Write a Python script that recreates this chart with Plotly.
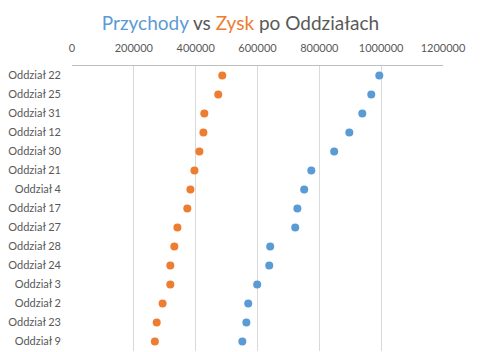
import plotly.graph_objects as go

categories = ["Oddział 22", "Oddział 25", "Oddział 31", "Oddział 12", "Oddział 30",
              "Oddział 21", "Oddział 4", "Oddział 17", "Oddział 27", "Oddział 28",
              "Oddział 24", "Oddział 3", "Oddział 2", "Oddział 23", "Oddział 9"]
przychody = [994000, 968000, 939000, 897000, 848000, 774000, 751000, 729000,
             722000, 641000, 638000, 599000, 570000, 564000, 551000]
zysk = [486000, 473000, 428000, 425000, 412000, 396000, 383000, 373000,
        341000, 331000, 318000, 318000, 293000, 274000, 268000]
tick_vals = [0, 200000, 400000, 600000, 800000, 1000000, 1200000]
tick_text = ["0", "200000", "400000", "600000", "800000", "1000000", "1200000"]

BLUE = "#5B9BD5"
ORANGE = "#ED7D31"
GRAY = "#595959"

fig = go.Figure()
fig.add_trace(go.Scatter(x=przychody, y=categories, mode="markers",
                         marker=dict(color=BLUE, size=8), name="Przychody"))
fig.add_trace(go.Scatter(x=zysk, y=categories, mode="markers",
                         marker=dict(color=ORANGE, size=8), name="Zysk"))

fig.update_layout(
    width=481, height=352,
    margin=dict(l=72, r=38, t=66, b=1),
    paper_bgcolor="white", plot_bgcolor="white",
    showlegend=False,
    font=dict(family="Lato, Carlito, sans-serif", color=GRAY, size=11),
    title=dict(
        text=(f"<span style='color:{BLUE}'>Przychody</span> vs "
              f"<span style='color:{ORANGE}'>Zysk</span> po Oddziałach"),
        x=0.5, xanchor="center", y=0.935, yanchor="middle",
        font=dict(size=19, color=GRAY, family="Lato, Carlito, sans-serif"),
    ),
    xaxis=dict(
        side="top", range=[0, 1200000], tickvals=tick_vals, ticktext=tick_text,
        showgrid=True, gridcolor="#D9D9D9", gridwidth=1,
        zeroline=False, showline=True, linecolor="#BFBFBF", linewidth=1,
        ticks="", ticklabelstandoff=9, tickfont=dict(size=11, color=GRAY),
    ),
    yaxis=dict(
        type="category", categoryorder="array", categoryarray=categories,
        range=[14.5, -0.5], showgrid=False, zeroline=False, showline=False,
        ticks="", ticklabelstandoff=10, tickfont=dict(size=11, color=GRAY),
    ),
)

fig.write_html("out.html")
